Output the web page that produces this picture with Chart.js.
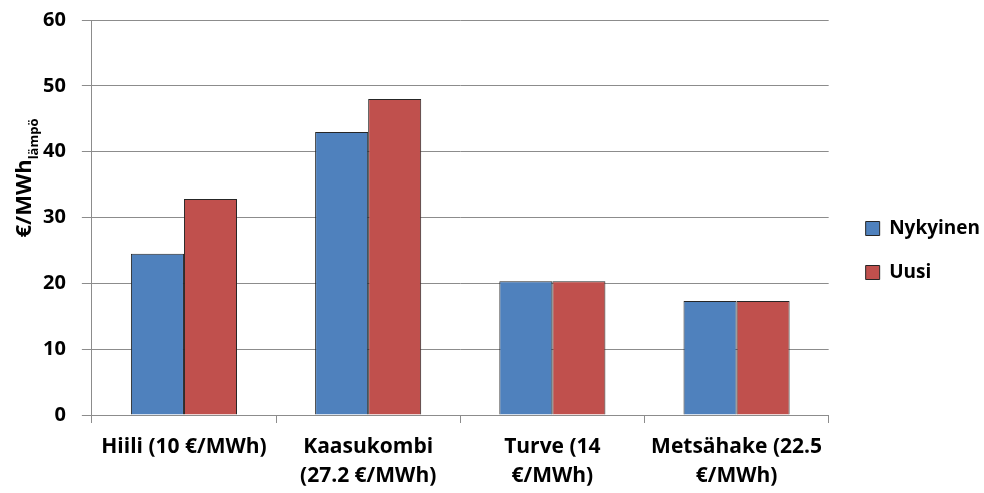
<!DOCTYPE html>
<html>
<head>
<meta charset="utf-8">
<script src="https://cdn.jsdelivr.net/npm/chart.js@4.4.1/dist/chart.umd.min.js"></script>
<style>
  body { margin: 0; background: #fff; }
  #wrap { width: 984px; height: 493px; position: relative; }
</style>
</head>
<body>
<div id="wrap"><canvas id="chart"></canvas></div>
<script>
const categories = [
  'Hiili (10 €/MWh)',
  ['Kaasukombi', '(27.2 €/MWh)'],
  ['Turve (14', '€/MWh)'],
  ['Metsähake (22.5', '€/MWh)']
];
const nykyinen = [24.5, 43.0, 20.3, 17.3];
const uusi = [32.8, 48.0, 20.3, 17.3];
const yTicks = [0, 10, 20, 30, 40, 50, 60];

const fontFamily = '"Open Sans", sans-serif';
const gridColor = '#8c8c8c';

// y-axis title with subscript, drawn rotated beside the axis
const yTitle = {
  id: 'yTitle',
  afterDraw(chart) {
    const ctx = chart.ctx;
    const main = '€/MWh';
    const sub = 'lämpö';
    ctx.save();
    ctx.font = 'bold 22px ' + fontFamily;
    const w1 = ctx.measureText(main).width;
    ctx.font = 'bold 13px ' + fontFamily;
    const w2 = ctx.measureText(sub).width;
    ctx.translate(31, 178);
    ctx.rotate(-Math.PI / 2);
    ctx.fillStyle = '#000';
    ctx.textBaseline = 'alphabetic';
    const start = -(w1 + w2) / 2;
    ctx.font = 'bold 22px ' + fontFamily;
    ctx.fillText(main, start, 0);
    ctx.font = 'bold 13px ' + fontFamily;
    ctx.fillText(sub, start + w1, 7);
    ctx.restore();
  }
};

// nudge the legend to where it sits in the original
const legendShift = {
  id: 'legendShift',
  afterLayout(chart) {
    chart.legend.left += 12;
    chart.legend.right += 12;
    chart.legend.top -= 6;
    chart.legend.bottom -= 6;
  }
};

new Chart(document.getElementById('chart'), {
  type: 'bar',
  data: {
    labels: categories,
    datasets: [{
      label: 'Nykyinen',
      data: nykyinen,
      backgroundColor: '#4f81bd',
      borderColor: '#262626',
      borderWidth: 1
    }, {
      label: 'Uusi',
      data: uusi,
      backgroundColor: '#c0504d',
      borderColor: '#262626',
      borderWidth: 1
    }]
  },
  options: {
    responsive: true,
    maintainAspectRatio: false,
    animation: false,
    layout: { padding: { left: 27, top: 20, right: 6, bottom: 0 } },
    datasets: { bar: { categoryPercentage: 0.576, barPercentage: 1.0 } },
    plugins: {
      legend: {
        position: 'right',
        labels: {
          font: { family: fontFamily, size: 19, weight: 'bold' },
          color: '#000',
          boxWidth: 14,
          boxHeight: 14,
          padding: 25,
          useBorderRadius: false
        }
      },
      tooltip: { enabled: false }
    },
    scales: {
      x: {
        afterFit: (axis) => { axis.height = 78; },
        grid: {
          offset: true,
          drawOnChartArea: false,
          color: gridColor,
          tickLength: 8
        },
        border: { color: gridColor },
        ticks: {
          color: '#000',
          font: { family: fontFamily, size: 21, weight: 'bold', lineHeight: 1.35 },
          maxRotation: 0,
          autoSkip: false,
          padding: 10
        }
      },
      y: {
        min: 0,
        max: 60,
        afterBuildTicks: (axis) => { axis.ticks = yTicks.map(v => ({ value: v })); },
        afterFit: (axis) => { axis.paddingTop = 12; axis.paddingBottom = 0; },
        grid: { color: gridColor, tickLength: 10 },
        border: { color: gridColor },
        ticks: {
          color: '#000',
          font: { family: fontFamily, size: 20, weight: 'bold' },
          padding: 16
        }
      }
    }
  },
  plugins: [yTitle, legendShift]
});
</script>
</body>
</html>
